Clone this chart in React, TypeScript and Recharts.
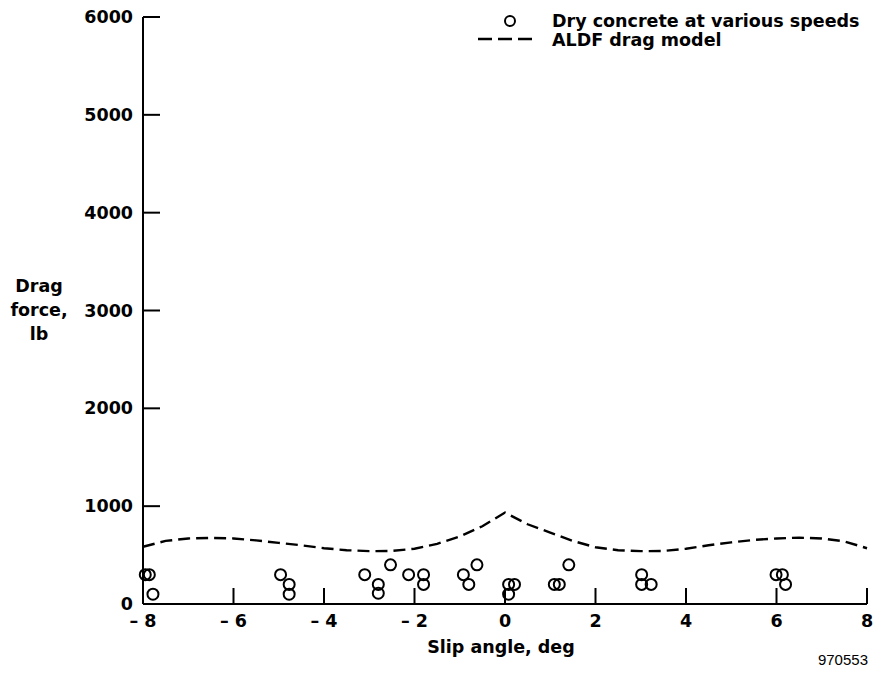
import React from 'react';
import {
  ComposedChart,
  Scatter,
  Line,
  XAxis,
  YAxis,
  Legend,
  Customized,
} from 'recharts';

// measured points (slip angle, deg / drag force, lb)
const testAngle = [
  -7.95, -7.86, -7.78, -4.96, -4.77, -4.77, -3.1, -2.8, -2.8, -2.53, -2.13, -1.8, -1.8, -0.92,
  -0.8, -0.62, 0.08, 0.21, 0.08, 1.09, 1.2, 1.41, 3.02, 3.02, 3.23, 5.99, 6.13, 6.2,
];
const testDrag = [
  300, 300, 100, 300, 200, 100, 300, 200, 110, 400, 300, 300, 200, 300, 200, 400, 200, 200,
  100, 200, 200, 400, 300, 200, 200, 300, 300, 200,
];

// ALDF drag model curve
const modelAngle = [
  -8, -7.5, -7, -6.5, -6, -5.5, -5, -4.5, -4, -3.5, -3, -2.5, -2, -1.5, -1, -0.5, 0, 0.5, 1,
  1.5, 2, 2.5, 3, 3.5, 4, 4.5, 5, 5.5, 6, 6.5, 7, 7.5, 8,
];
const modelDrag = [
  585, 645, 670, 675, 670, 650, 625, 600, 570, 550, 540, 542, 565, 615, 690, 795, 935, 815, 730,
  645, 580, 550, 540, 542, 565, 600, 630, 655, 670, 678, 670, 640, 570,
];

const xTicks = [-8, -6, -4, -2, 0, 2, 4, 6, 8];
const xTickLabels = ['\u2013 8', '\u2013 6', '\u2013 4', '\u2013 2', '0', '2', '4', '6', '8'];
const yTicks = [0, 1000, 2000, 3000, 4000, 5000, 6000];

const testData = testAngle.map((x, i) => ({ x, y: testDrag[i] }));
const modelData = modelAngle.map((x, i) => ({ x, y: modelDrag[i] }));

const BOLD = '"DejaVu Sans", sans-serif';

const XTick = (props: any) => {
  const { x, y, payload } = props;
  const idx = xTicks.indexOf(payload.value);
  return (
    <g>
      <line x1={x} x2={x} y1={y} y2={y - 16} stroke='#000' strokeWidth={2} />
      <text
        x={x}
        y={y + 23}
        textAnchor='middle'
        fontFamily={BOLD}
        fontWeight='bold'
        fontSize={17.5}
        fill='#000'
      >
        {xTickLabels[idx]}
      </text>
    </g>
  );
};

const YTick = (props: any) => {
  const { x, y, payload } = props;
  return (
    <g>
      <line x1={x} x2={x + 17} y1={y} y2={y} stroke='#000' strokeWidth={2} />
      <text
        x={x - 10}
        y={y + 6}
        textAnchor='end'
        fontFamily={BOLD}
        fontWeight='bold'
        fontSize={17.5}
        fill='#000'
      >
        {payload.value}
      </text>
    </g>
  );
};

const OpenCircle = (props: any) => (
  <circle cx={props.cx} cy={props.cy} r={5.5} fill='none' stroke='#000' strokeWidth={2} />
);

const LegendBox = (props: any) => {
  const items = props.payload || [];
  return (
    <svg width={406} height={52}>
      {items.map((entry: any, i: number) => {
        const base = 27 + i * 19;
        return (
          <g key={`legend-${i}`}>
            {entry.type === 'circle' ? (
              <circle cx={40} cy={base - 6} r={5} fill='none' stroke='#000' strokeWidth={2} />
            ) : (
              <line
                x1={8}
                x2={62}
                y1={base - 7}
                y2={base - 7}
                stroke='#000'
                strokeWidth={2.4}
                strokeDasharray='14 6'
              />
            )}
            <text
              x={82}
              y={base}
              fontFamily={BOLD}
              fontWeight='bold'
              fontSize={17.5}
              fill='#000'
            >
              {entry.value}
            </text>
          </g>
        );
      })}
    </svg>
  );
};

const Extras = () => (
  <g>
    <text
      x={39}
      y={292}
      textAnchor='middle'
      fontFamily={BOLD}
      fontWeight='bold'
      fontSize={17.5}
      fill='#000'
    >
      <tspan x={39}>Drag</tspan>
      <tspan x={39} dy={24}>
        force,
      </tspan>
      <tspan x={39} dy={24}>
        lb
      </tspan>
    </text>
    <text
      x={868}
      y={665}
      textAnchor='end'
      fontFamily='"Liberation Sans", Arial, sans-serif'
      fontSize={15}
      fill='#000'
    >
      970553
    </text>
  </g>
);

export default function App() {
  return (
    <div style={{ position: 'absolute', left: 0, top: 0, background: '#fff' }}>
      <ComposedChart
        width={876}
        height={673}
        margin={{ top: 17, right: 9, bottom: 0, left: 0 }}
      >
        <XAxis
          dataKey='x'
          type='number'
          domain={[-8, 8]}
          ticks={xTicks}
          interval={0}
          height={69}
          tickSize={0}
          tickMargin={0}
          tickLine={false}
          axisLine={{ stroke: '#000', strokeWidth: 2 }}
          tick={<XTick />}
          label={{
            value: 'Slip angle, deg',
            position: 'insideBottom',
            offset: 20,
            dx: -4,
            fontFamily: BOLD,
            fontWeight: 'bold',
            fontSize: 17.5,
            fill: '#000',
          }}
        />
        <YAxis
          dataKey='y'
          type='number'
          domain={[0, 6000]}
          ticks={yTicks}
          interval={0}
          width={143}
          tickSize={0}
          tickMargin={0}
          tickLine={false}
          axisLine={{ stroke: '#000', strokeWidth: 2 }}
          tick={<YTick />}
        />
        <Line
          data={modelData}
          dataKey='y'
          name='ALDF drag model'
          type='linear'
          stroke='#000'
          strokeWidth={2.4}
          strokeDasharray='12 6'
          dot={false}
          activeDot={false}
          legendType='line'
          isAnimationActive={false}
        />
        <Scatter
          data={testData}
          dataKey='y'
          name='Dry concrete at various speeds'
          shape={<OpenCircle />}
          legendType='circle'
          isAnimationActive={false}
        />
        <Legend
          layout='vertical'
          align='center'
          verticalAlign='middle'
          content={<LegendBox />}
          wrapperStyle={{ left: 470, top: 0, width: 406, height: 52 }}
          itemSorter={(item: any) => (item.type === 'circle' ? 0 : 1)}
        />
        <Customized component={Extras} />
      </ComposedChart>
    </div>
  );
}
